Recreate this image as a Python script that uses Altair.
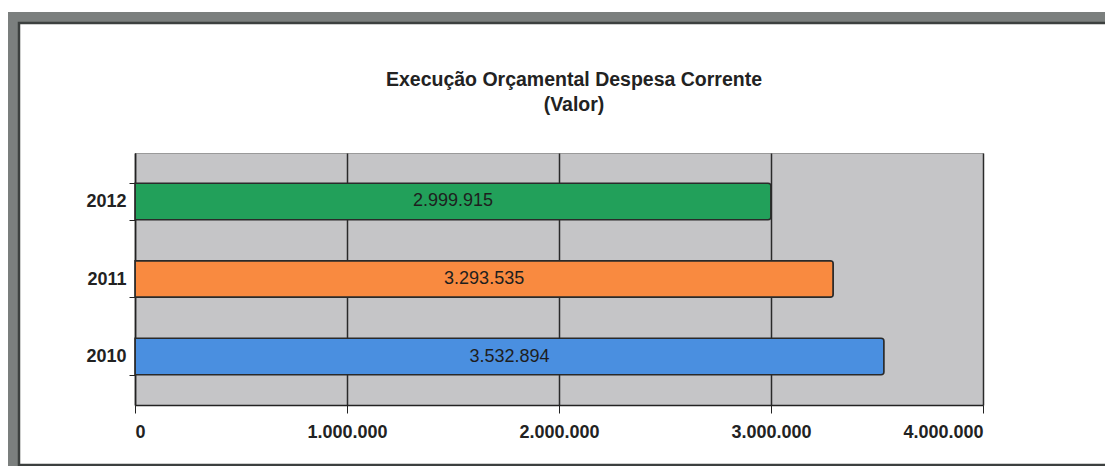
import altair as alt
import pandas as pd

years = ["2012", "2011", "2010"]
values = [2999915, 3293535, 3532894]
labels = ["2.999.915", "3.293.535", "3.532.894"]
colors = ["#22a05a", "#f98a40", "#4a8fe0"]
x_ticks = [0, 1000000, 2000000, 3000000, 4000000]
x_tick_labels = ["0", "1.000.000", "2.000.000", "3.000.000", "4.000.000"]
title_lines = ["Execução Orçamental Despesa Corrente", "(Valor)"]

df = pd.DataFrame({"ano": years, "valor": values, "rotulo": labels, "cor": colors})
df["meio"] = df["valor"] / 2

FONT = "Liberation Sans"
W, H = 848, 252
PL, PT, PR, PB = 127, 145, 122, 61

label_expr = "{" + ",".join(f"'{v}':'{t}'" for v, t in zip(x_ticks, x_tick_labels)) + "}[datum.value]"

y_enc = alt.Y("ano:N", sort=years, title=None,
              scale=alt.Scale(paddingInner=0.53, paddingOuter=0.39),
              axis=alt.Axis(labelFont=FONT, labelFontSize=18, labelFontWeight="bold",
                            labelColor="#222", domainColor="#222", domainWidth=1.5,
                            tickColor="#222", tickSize=6, tickBand="extent",
                            labelPadding=3, grid=False))
x_scale = alt.Scale(domain=[0, 4000000], nice=False)

bars = alt.Chart(df).mark_bar(stroke="#2a2a2a", strokeWidth=1.5, cornerRadiusEnd=3).encode(
    x=alt.X("valor:Q", scale=x_scale, title=None,
            axis=alt.Axis(values=x_ticks, labelExpr=label_expr, labelFont=FONT,
                          labelFontSize=18, labelFontWeight="bold", labelColor="#222",
                          domainColor="#222", domainWidth=1.5, tickColor="#222",
                          tickSize=8, labelPadding=10, grid=True, gridColor="#2a2a2a",
                          gridWidth=1.5)),
    y=y_enc,
    color=alt.Color("cor:N", scale=None, legend=None),
)

text = alt.Chart(df).mark_text(font=FONT, fontSize=18, color="#1e1e1e").encode(
    x=alt.X("meio:Q", scale=x_scale),
    y=alt.Y("ano:N", sort=years),
    text="rotulo:N",
)

title_df = pd.DataFrame({"linha": title_lines, "ordem": [0, 1]})
title1 = alt.Chart(title_df).transform_filter("datum.ordem == 0").mark_text(
    font=FONT, fontSize=19.5, fontWeight="bold", color="#222", baseline="middle"
).encode(text="linha:N", x=alt.value(439), y=alt.value(-73))
title2 = alt.Chart(title_df).transform_filter("datum.ordem == 1").mark_text(
    font=FONT, fontSize=19.5, fontWeight="bold", color="#222", baseline="middle"
).encode(text="linha:N", x=alt.value(439), y=alt.value(-48))

frame_df = pd.DataFrame({"k": [0]})
frame_outer = alt.Chart(frame_df).mark_rect(fill=None, stroke="#7b7f7e", strokeWidth=10).encode(
    x=alt.value(-122), x2=alt.value(W + PR + 20), y=alt.value(-136), y2=alt.value(H + PB + 6))
frame_inner = alt.Chart(frame_df).mark_rect(fill=None, stroke="#3c403f", strokeWidth=2.5).encode(
    x=alt.value(-116), x2=alt.value(W + PR + 14), y=alt.value(-130), y2=alt.value(H + PB - 1))

chart = alt.layer(bars, text, title1, title2, frame_outer, frame_inner).properties(
    width=W, height=H,
    autosize=alt.AutoSizeParams(type="none"),
    padding={"left": PL, "top": PT, "right": PR, "bottom": PB},
    background="white",
).configure_view(fill="#c5c5c7", stroke="#9a9a9a")

chart.save("out.html", embed_options={"renderer": "svg", "actions": False})
